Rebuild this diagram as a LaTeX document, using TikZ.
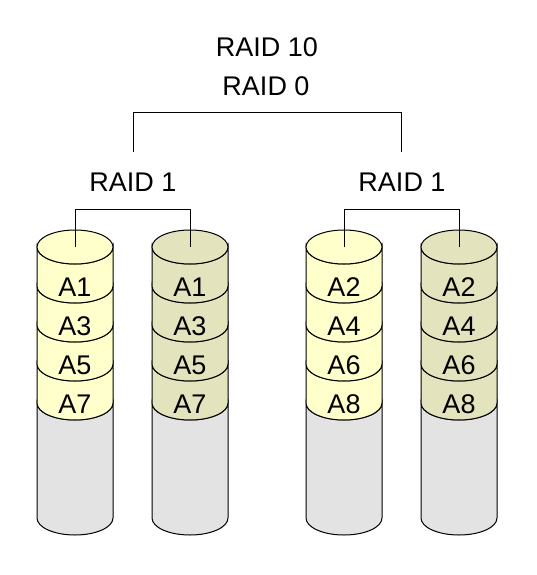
\documentclass[tikz,border=0pt]{standalone}
\usepackage{fontspec}
\setmainfont{Liberation Sans}
\usepackage{tikz}
\usetikzlibrary{calc}

\definecolor{diskA}{RGB}{255,255,204}
\definecolor{diskB}{RGB}{227,227,189}
\definecolor{diskFree}{RGB}{227,227,227}

\tikzset{
  lbl/.style={font=\fontsize{27}{32}\selectfont, inner sep=0pt},
  band/.style={draw=black, fill=#1},
}

\begin{document}
\begin{tikzpicture}[x=1pt, y=-1pt, line width=1pt]
\useasboundingbox (0,0) rectangle (536,575);

% the four disks
\foreach \n/\x/\col/\o in {1/75/diskA/0, 2/190/diskB/0, 3/344/diskA/1, 4/459/diskB/1}
{
  \path[band=diskFree] (\x-38,403) -- (\x-38,518)
      arc[start angle=180, end angle=0, x radius=38, y radius=17]
      -- (\x+38,403)
      arc[start angle=0, end angle=180, x radius=38, y radius=17] -- cycle;
  \foreach \k in {4,3,2,1}
  {
    \path[band=\col] (\x-38,{247+39*(\k-1)}) -- (\x-38,{247+39*\k})
        arc[start angle=180, end angle=0, x radius=38, y radius=17]
        -- (\x+38,{247+39*(\k-1)})
        arc[start angle=0, end angle=180, x radius=38, y radius=17] -- cycle;
    \pgfmathtruncatemacro\num{2*\k-1+\o}
    \node[lbl] (d\n a\k) at (\x,{248+39*\k}) {A\num};
  }
  \path[band=\col] (\x,247) ellipse[x radius=38, y radius=17];
  \coordinate (d\n) at (\x,247);
}

\node[lbl]    (raid10)   at ( 267, 47  )   {RAID 10};
\node[lbl]    (raid0)    at ( 266, 86  )   {RAID 0};
\node[lbl]    (raid1a)   at ( 133, 182 )   {RAID 1};
\node[lbl]    (raid1b)   at ( 402, 182 )   {RAID 1};

\coordinate (m1) at ( 133, 152 );
\coordinate (m2) at ( 401, 152 );

\draw (m1) -- ++(0,-39) -| (m2);
\draw (d1) -- ++(0,-38) -| (d2);
\draw (d3) -- ++(0,-38) -| (d4);
\end{tikzpicture}
\end{document}
